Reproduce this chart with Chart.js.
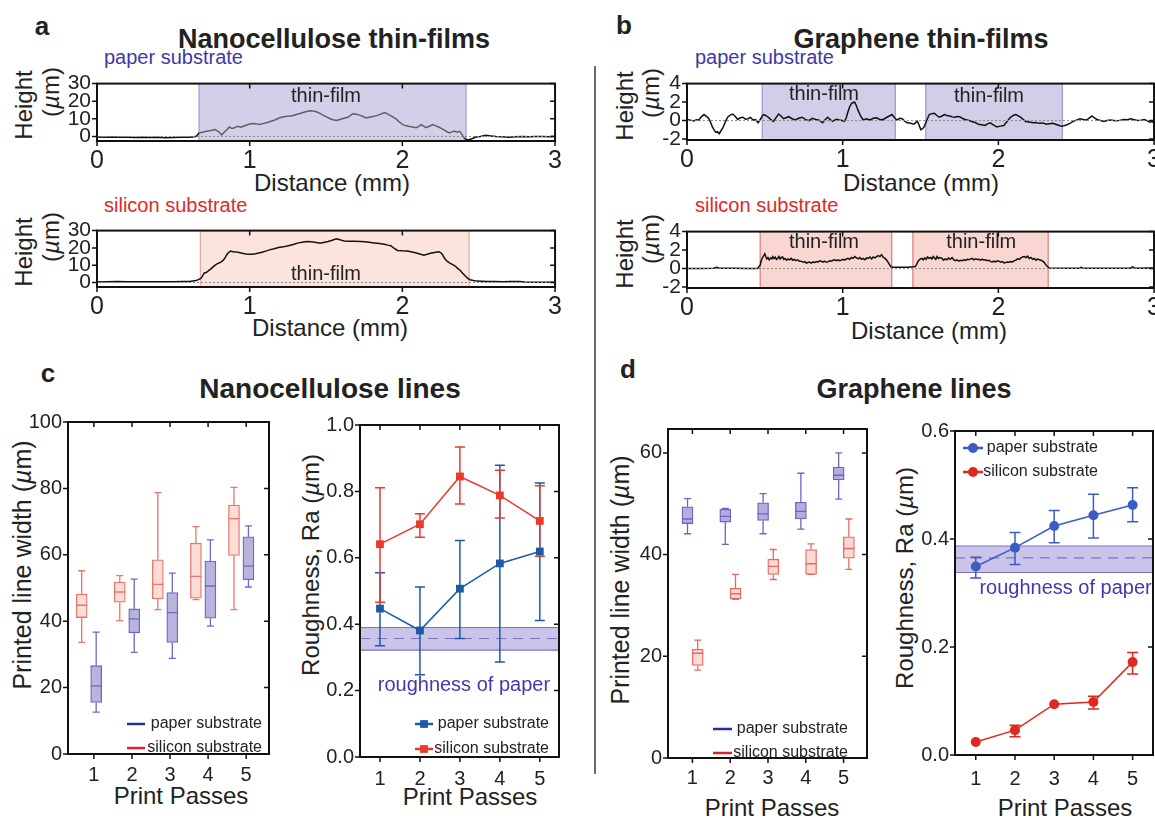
<!DOCTYPE html>
<html>
<head>
<meta charset="utf-8">
<script src="https://cdn.jsdelivr.net/npm/chart.js@4.4.1/dist/chart.umd.min.js"></script>
<style>
  html, body { margin:0; padding:0; background:#fff; width:1155px; height:818px; overflow:hidden; }
  body { position:relative; font-family:'Liberation Sans', Arial, Helvetica, sans-serif; color:#222; }
  canvas { position:absolute; }
  .t { position:absolute; white-space:nowrap; line-height:1; transform:translate(-50%,-50%); }
  .l { transform:translate(0,-50%); }
  .r { transform:translate(-50%,-50%) rotate(-90deg); }
  .b { font-weight:bold; }
  .paper { color:#3f37aa; }
  .silicon { color:#dd2a2a; }
  .sep { position:absolute; left:594px; top:66px; width:1.5px; height:708px; background:#6a6a6a; }
</style>
</head>
<body>
<!-- panel letters and headings -->
<div class="t b" style="left:42px;top:26px;font-size:26px">a</div>
<div class="t b" style="left:624px;top:25px;font-size:26px">b</div>
<div class="t b" style="left:48px;top:373px;font-size:26px">c</div>
<div class="t b" style="left:628px;top:369px;font-size:26px">d</div>
<div class="t b" style="left:334px;top:39px;font-size:27px">Nanocellulose thin-films</div>
<div class="t b" style="left:921px;top:39px;font-size:27px">Graphene thin-films</div>
<div class="t b" style="left:330px;top:389px;font-size:28px">Nanocellulose lines</div>
<div class="t b" style="left:914px;top:389px;font-size:27px">Graphene lines</div>

<!-- substrate captions -->
<div class="t l paper" style="left:104px;top:57px;font-size:20px">paper substrate</div>
<div class="t l silicon" style="left:104px;top:205px;font-size:20px">silicon substrate</div>
<div class="t l paper" style="left:695px;top:57px;font-size:20px">paper substrate</div>
<div class="t l silicon" style="left:695px;top:205px;font-size:20px">silicon substrate</div>

<!-- profile axis titles -->
<div class="t r" style="left:24px;top:105px;font-size:24px">Height</div>
<div class="t r" style="left:51px;top:92px;font-size:24px">(<i>µ</i>m)</div>
<div class="t r" style="left:24px;top:252px;font-size:24px">Height</div>
<div class="t r" style="left:51px;top:237px;font-size:24px">(<i>µ</i>m)</div>
<div class="t r" style="left:625px;top:106px;font-size:24px">Height</div>
<div class="t r" style="left:651px;top:93px;font-size:24px">(<i>µ</i>m)</div>
<div class="t r" style="left:625px;top:254px;font-size:24px">Height</div>
<div class="t r" style="left:651px;top:239px;font-size:24px">(<i>µ</i>m)</div>
<div class="t" style="left:332px;top:183px;font-size:24px">Distance (mm)</div>
<div class="t" style="left:330px;top:328px;font-size:24px">Distance (mm)</div>
<div class="t" style="left:921px;top:183px;font-size:24px">Distance (mm)</div>
<div class="t" style="left:929px;top:331px;font-size:24px">Distance (mm)</div>

<!-- line panels axis titles -->
<div class="t r" style="left:22px;top:565px;font-size:25px">Printed line width (<i>µ</i>m)</div>
<div class="t r" style="left:311px;top:565px;font-size:24px">Roughness, Ra (<i>µ</i>m)</div>
<div class="t r" style="left:620px;top:580px;font-size:25px">Printed line width (<i>µ</i>m)</div>
<div class="t r" style="left:905px;top:578px;font-size:24px">Roughness, Ra (<i>µ</i>m)</div>
<div class="t" style="left:181px;top:796px;font-size:24px">Print Passes</div>
<div class="t" style="left:470px;top:797px;font-size:24px">Print Passes</div>
<div class="t" style="left:772px;top:808px;font-size:24px">Print Passes</div>
<div class="t" style="left:1065px;top:808px;font-size:24px">Print Passes</div>

<div class="sep"></div>

<script>
// ---------------- height profiles: [distance (mm), height (µm)] ----------------
const distTicks = [0, 1, 2, 3];
const distLabels = ['0', '1', '2', '3'];
const ncHeightTicks = [0, 10, 20, 30];
const ncHeightLabels = ['0', '10', '20', '30'];
const grHeightTicks = [-2, 0, 2, 4];
const grHeightLabels = ['-2', '0', '2', '4'];

// printed film extents (mm)
const ncPaperFilm = [[0.668, 2.417]];
const ncSiliconFilm = [[0.677, 2.437]];
const grPaperFilms = [[0.483, 1.338], [1.534, 2.411]];
const grSiliconFilms = [[0.470, 1.315], [1.451, 2.320]];

const ncPaperProfile = [
  [0,-0.3],[0.05,-0.4],[0.1,-0.3],[0.15,-0.5],[0.2,-0.4],[0.25,-0.6],[0.3,-0.5],[0.35,-0.6],[0.4,-0.5],
  [0.45,-0.7],[0.5,-0.6],[0.55,-0.5],[0.6,-0.4],[0.64,-0.2],[0.653,0.3],[0.668,2.0],[0.69,2.4],[0.708,2.8],
  [0.74,3.2],[0.773,3.9],[0.795,2.8],[0.816,0.9],[0.838,2.8],[0.855,4.2],[0.867,5.4],[0.88,4.6],[0.893,4.6],
  [0.91,5.4],[0.925,5.7],[0.94,5.2],[0.958,5.8],[0.98,6.5],[1.0,7.0],[1.023,7.4],[1.045,7.0],[1.067,6.8],
  [1.09,7.4],[1.11,7.8],[1.14,8.6],[1.165,9.3],[1.19,10.3],[1.208,10.9],[1.235,11.3],[1.263,11.6],[1.285,11.9],
  [1.306,12.4],[1.33,13.0],[1.35,13.6],[1.372,14.2],[1.393,14.6],[1.415,14.4],[1.437,14.0],[1.46,13.1],
  [1.48,12.1],[1.5,11.2],[1.524,10.2],[1.545,9.5],[1.568,9.0],[1.59,9.6],[1.611,10.2],[1.63,10.6],[1.644,10.9],
  [1.66,12.0],[1.676,12.9],[1.7,12.6],[1.72,12.1],[1.742,11.3],[1.764,10.5],[1.785,10.9],[1.807,11.3],
  [1.83,11.8],[1.851,12.4],[1.868,13.0],[1.883,13.6],[1.9,12.9],[1.916,12.1],[1.94,11.0],[1.96,9.8],[1.98,8.2],
  [2.003,6.7],[2.025,6.0],[2.047,5.6],[2.07,5.3],[2.09,5.0],[2.105,5.6],[2.123,6.7],[2.14,5.8],[2.155,5.0],
  [2.18,5.9],[2.199,6.7],[2.22,6.0],[2.243,5.1],[2.26,4.3],[2.275,3.6],[2.29,2.8],[2.308,2.0],[2.325,2.6],
  [2.341,3.1],[2.35,2.6],[2.362,2.5],[2.375,2.9],[2.384,2.0],[2.395,0.5],[2.406,-1.1],[2.42,-1.7],[2.438,-1.9],
  [2.46,-1.2],[2.482,-0.3],[2.51,0.0],[2.547,0.6],[2.58,0.3],[2.613,0.0],[2.65,-0.2],[2.7,-0.5],[2.74,-0.2],
  [2.787,0.0],[2.83,-0.2],[2.874,-0.1],[2.92,0.0],[2.96,-0.2],[3.0,0.1]
];

const ncSiliconProfile = [
  [0,0.3],[0.07,0.5],[0.13,0.6],[0.2,0.4],[0.28,0.4],[0.36,0.5],[0.43,0.4],[0.5,0.5],[0.56,0.6],[0.605,0.6],
  [0.649,1.1],[0.681,2.4],[0.692,4.0],[0.703,5.5],[0.714,5.8],[0.724,6.3],[0.735,7.2],[0.746,7.9],[0.76,9.0],
  [0.778,10.3],[0.79,10.9],[0.811,11.8],[0.82,12.3],[0.832,13.4],[0.843,15.0],[0.854,16.6],[0.865,17.6],
  [0.876,18.2],[0.89,17.8],[0.908,17.7],[0.93,17.3],[0.951,16.9],[0.975,16.5],[0.995,16.3],[1.015,16.4],
  [1.038,16.6],[1.06,17.0],[1.081,17.5],[1.11,18.3],[1.135,19.0],[1.16,19.5],[1.189,20.2],[1.22,20.6],
  [1.254,21.3],[1.285,22.0],[1.319,22.9],[1.345,23.3],[1.373,23.7],[1.4,23.5],[1.427,23.2],[1.45,22.8],
  [1.47,22.9],[1.49,23.3],[1.514,23.7],[1.54,24.4],[1.568,25.3],[1.585,24.9],[1.6,24.5],[1.62,24.0],
  [1.643,23.9],[1.685,23.8],[1.73,23.7],[1.77,23.4],[1.816,22.9],[1.85,22.5],[1.881,22.1],[1.905,21.6],
  [1.924,21.3],[1.945,19.8],[1.968,18.5],[2.0,18.3],[2.032,18.2],[2.065,17.6],[2.097,16.9],[2.12,16.3],
  [2.141,15.8],[2.162,16.3],[2.184,16.9],[2.21,17.3],[2.238,17.7],[2.25,17.3],[2.259,16.6],[2.27,15.0],
  [2.281,13.4],[2.297,12.0],[2.314,11.1],[2.33,10.3],[2.346,9.5],[2.362,8.2],[2.378,7.1],[2.395,5.4],
  [2.411,3.9],[2.427,2.5],[2.443,1.6],[2.465,1.1],[2.486,0.8],[2.52,0.7],[2.551,0.6],[2.6,0.6],[2.659,0.5],
  [2.71,0.6],[2.768,0.6],[2.8,0.3],[2.832,0.1],[2.9,0.2],[2.95,0.2],[3.0,0.2]
];

const grPaperProfile = [
  [0,0.12],[0.022,0.05],[0.044,-0.03],[0.06,0.1],[0.076,0.06],[0.092,0.4],[0.109,0.65],[0.125,0.45],
  [0.141,0.2],[0.152,-0.2],[0.163,-0.68],[0.174,-1.0],[0.185,-1.28],[0.196,-1.2],[0.207,-1.42],[0.218,-1.1],
  [0.229,-0.83],[0.245,-0.2],[0.261,0.36],[0.278,0.6],[0.294,0.71],[0.31,0.45],[0.326,0.12],[0.342,0.3],
  [0.359,0.36],[0.375,0.15],[0.392,0.2],[0.408,0.35],[0.424,0.06],[0.44,0.1],[0.457,-0.24],[0.473,0.2],
  [0.49,0.65],[0.506,0.55],[0.522,0.36],[0.538,0.1],[0.555,-0.09],[0.571,0.3],[0.588,0.71],[0.604,0.5],
  [0.62,0.2],[0.636,0.3],[0.653,0.42],[0.675,0.2],[0.696,0.06],[0.718,0.25],[0.74,0.36],[0.762,0.1],
  [0.783,0.0],[0.805,0.25],[0.827,0.12],[0.849,0.05],[0.871,-0.24],[0.887,0.1],[0.903,0.36],[0.92,0.1],
  [0.936,-0.09],[0.958,0.15],[0.979,0.06],[0.995,0.0],[1.012,-0.09],[1.023,0.3],[1.034,0.95],[1.045,1.5],
  [1.056,1.84],[1.067,1.95],[1.077,1.99],[1.088,1.6],[1.099,1.1],[1.115,0.5],[1.132,0.06],[1.153,0.2],
  [1.175,0.06],[1.197,0.25],[1.219,0.3],[1.235,0.15],[1.251,0.06],[1.268,0.2],[1.284,0.36],[1.3,0.5],
  [1.317,0.65],[1.333,0.3],[1.349,0.06],[1.366,0.25],[1.382,0.2],[1.398,-0.05],[1.415,-0.24],[1.436,-0.3],
  [1.458,-0.39],[1.47,-0.2],[1.48,-0.09],[1.491,-0.5],[1.502,-0.98],[1.512,-0.9],[1.523,-0.68],[1.54,0.0],
  [1.556,0.65],[1.572,0.75],[1.589,0.8],[1.605,0.55],[1.621,0.36],[1.638,0.5],[1.654,0.65],[1.67,0.55],
  [1.687,0.5],[1.703,0.4],[1.719,0.36],[1.736,0.45],[1.752,0.42],[1.768,0.25],[1.785,0.12],[1.806,0.05],
  [1.828,-0.09],[1.85,-0.2],[1.872,-0.39],[1.893,-0.45],[1.915,-0.53],[1.93,-0.35],[1.948,-0.24],[1.97,-0.5],
  [1.991,-0.68],[2.013,-0.6],[2.035,-0.53],[2.056,-0.1],[2.078,0.36],[2.095,0.55],[2.111,0.65],[2.128,0.5],
  [2.144,0.36],[2.16,0.1],[2.176,-0.09],[2.198,-0.15],[2.22,-0.24],[2.241,-0.2],[2.263,-0.3],[2.285,-0.25],
  [2.307,-0.39],[2.328,-0.35],[2.35,-0.3],[2.377,-0.45],[2.405,-0.62],[2.421,-0.55],[2.437,-0.47],
  [2.459,-0.3],[2.481,-0.09],[2.502,0.05],[2.524,0.2],[2.546,0.12],[2.568,0.06],[2.585,0.3],[2.601,0.5],
  [2.617,0.3],[2.633,0.12],[2.655,0.0],[2.677,-0.09],[2.698,0.0],[2.72,0.06],[2.742,0.02],[2.764,-0.03],
  [2.785,0.05],[2.807,0.12],[2.829,0.1],[2.851,0.2],[2.872,0.1],[2.894,0.0],[2.916,0.05],[2.938,0.12],
  [2.955,0.0],[2.971,-0.18],[2.987,-0.1],[3.0,-0.24]
];

const grSiliconProfile = [
  [0,0.0],[0.08,0.02],[0.172,0.03],[0.19,0.15],[0.207,0.03],[0.3,0.03],[0.4,0.02],[0.453,0.0],[0.47,0.36],
  [0.478,0.9],[0.485,1.2],[0.493,1.4],[0.5,1.6],[0.507,1.25],[0.513,1.05],[0.52,1.2],[0.528,0.95],[0.537,1.15],
  [0.545,1.05],[0.55,1.3],[0.558,1.1],[0.566,1.25],[0.574,1.0],[0.582,1.1],[0.59,1.3],[0.598,1.05],[0.606,1.2],
  [0.614,1.25],[0.622,1.0],[0.63,1.1],[0.64,0.9],[0.65,1.05],[0.66,0.95],[0.67,1.1],[0.68,0.9],[0.69,1.0],
  [0.7,0.85],[0.712,0.95],[0.722,0.8],[0.733,0.8],[0.745,0.7],[0.757,0.75],[0.767,0.6],[0.776,0.65],
  [0.787,0.7],[0.798,0.6],[0.809,0.72],[0.819,0.65],[0.83,0.75],[0.841,0.7],[0.852,0.85],[0.862,0.8],
  [0.873,0.7],[0.884,0.8],[0.895,0.68],[0.905,0.72],[0.916,0.85],[0.927,0.8],[0.938,0.9],[0.948,0.95],
  [0.959,0.85],[0.97,0.95],[0.98,0.85],[0.991,0.9],[1.002,1.0],[1.013,0.92],[1.023,1.05],[1.034,1.1],
  [1.045,1.0],[1.056,1.2],[1.067,1.1],[1.078,1.3],[1.089,1.15],[1.1,1.05],[1.11,1.2],[1.121,1.0],[1.132,1.1],
  [1.143,0.95],[1.154,1.15],[1.164,1.1],[1.175,1.25],[1.186,1.05],[1.196,1.25],[1.207,1.15],[1.218,1.3],
  [1.228,1.4],[1.239,1.3],[1.25,1.5],[1.261,1.2],[1.272,1.1],[1.283,0.9],[1.293,0.65],[1.302,0.4],[1.31,0.2],
  [1.322,0.15],[1.336,0.15],[1.38,0.15],[1.422,0.15],[1.45,0.2],[1.466,0.22],[1.475,0.45],[1.483,0.75],
  [1.492,0.95],[1.5,1.05],[1.509,1.1],[1.518,0.95],[1.527,1.15],[1.536,1.0],[1.545,1.25],[1.555,1.1],
  [1.565,1.2],[1.573,1.05],[1.582,1.3],[1.59,1.15],[1.598,1.0],[1.606,1.3],[1.615,1.1],[1.625,1.2],[1.638,1.1],
  [1.648,0.9],[1.658,1.05],[1.67,0.95],[1.68,1.15],[1.692,1.0],[1.703,1.19],[1.714,0.95],[1.725,0.85],
  [1.736,0.95],[1.746,0.8],[1.757,0.9],[1.768,0.85],[1.779,0.95],[1.789,0.89],[1.8,1.0],[1.81,0.95],
  [1.821,1.05],[1.832,1.1],[1.843,0.95],[1.854,1.05],[1.865,0.98],[1.875,1.0],[1.886,0.92],[1.897,1.02],
  [1.908,0.9],[1.918,0.95],[1.929,0.85],[1.94,0.9],[1.951,0.75],[1.961,0.71],[1.972,0.8],[1.983,0.72],
  [1.994,0.85],[2.004,0.8],[2.015,0.7],[2.026,0.75],[2.037,0.62],[2.047,0.65],[2.058,0.72],[2.069,0.68],
  [2.08,0.75],[2.091,0.71],[2.102,0.85],[2.113,0.92],[2.123,1.05],[2.134,1.0],[2.145,1.15],[2.156,1.25],
  [2.166,1.3],[2.177,1.2],[2.188,1.35],[2.198,1.1],[2.209,1.2],[2.22,1.0],[2.231,1.1],[2.242,0.9],[2.252,1.05],
  [2.263,0.95],[2.274,0.9],[2.285,0.8],[2.295,0.65],[2.305,0.4],[2.317,0.2],[2.328,0.05],[2.435,0.03],
  [2.525,0.03],[2.532,0.15],[2.543,0.03],[2.7,0.03],[2.845,0.03],[2.862,0.18],[2.879,0.03],[2.974,0.06],[3.0,0.03]
];

// ---------------- printed lines ----------------
const passes = [1, 2, 3, 4, 5];
const passTicks = [1, 2, 3, 4, 5];
const passLabels = ['1', '2', '3', '4', '5'];

// nanocellulose line width (µm): min, Q1, median, Q3, max
const ncSiMin = [33.6, 40.2, 43.5, 46.5, 43.5];
const ncSiQ1  = [41.1, 45.7, 46.7, 46.9, 59.8];
const ncSiMed = [44.8, 48.8, 51.1, 53.5, 70.9];
const ncSiQ3  = [48.2, 51.8, 58.5, 63.5, 75.0];
const ncSiMax = [55.2, 53.7, 78.7, 68.5, 80.3];
const ncPaMin = [12.6, 30.6, 28.8, 38.5, 50.3];
const ncPaQ1  = [15.5, 36.5, 33.6, 40.9, 52.5];
const ncPaMed = [20.5, 40.7, 42.6, 50.6, 56.6];
const ncPaQ3  = [26.6, 43.7, 48.6, 58.1, 65.4];
const ncPaMax = [36.7, 52.7, 54.5, 64.5, 68.7];
const ncWidthTicks = [0, 20, 40, 60, 80, 100];
const ncWidthLabels = ['0', '20', '40', '60', '80', '100'];

// graphene line width (µm)
const grPaMin = [44.1, 42.0, 44.1, 45.0, 50.9];
const grPaQ1  = [46.1, 46.4, 46.7, 47.0, 54.7];
const grPaMed = [47.0, 47.5, 48.0, 48.5, 55.6];
const grPaQ3  = [49.4, 48.9, 50.2, 50.3, 57.2];
const grPaMax = [51.0, 49.1, 52.0, 56.0, 60.0];
const grSiMin = [17.3, 31.2, 35.1, 36.1, 37.1];
const grSiQ1  = [18.2, 31.3, 36.1, 36.1, 39.3];
const grSiMed = [20.6, 32.3, 37.7, 38.2, 41.2];
const grSiQ3  = [21.4, 33.4, 39.1, 41.0, 43.5];
const grSiMax = [23.2, 36.1, 41.0, 42.1, 47.0];
const grWidthTicks = [0, 20, 40, 60];
const grWidthLabels = ['0', '20', '40', '60'];

// roughness Ra (µm) with error bar ends
const ncRaSi   = [0.641, 0.701, 0.845, 0.788, 0.711];
const ncRaSiHi = [0.811, 0.733, 0.934, 0.864, 0.817];
const ncRaSiLo = [0.466, 0.662, 0.762, 0.720, 0.605];
const ncRaPa   = [0.447, 0.381, 0.507, 0.583, 0.619];
const ncRaPaHi = [0.555, 0.512, 0.652, 0.879, 0.825];
const ncRaPaLo = [0.335, 0.248, 0.357, 0.286, 0.411];
const ncPaperRa = [0.322, 0.357, 0.390];   // low, mean, high
const ncRaTicks = [0, 0.2, 0.4, 0.6, 0.8, 1.0];
const ncRaLabels = ['0.0', '0.2', '0.4', '0.6', '0.8', '1.0'];

const grRaPa   = [0.349, 0.384, 0.424, 0.444, 0.463];
const grRaPaHi = [0.366, 0.412, 0.453, 0.483, 0.495];
const grRaPaLo = [0.328, 0.353, 0.393, 0.402, 0.432];
const grRaSi   = [0.024, 0.046, 0.094, 0.098, 0.172];
const grRaSiHi = [0.024, 0.055, 0.094, 0.109, 0.190];
const grRaSiLo = [0.024, 0.034, 0.094, 0.085, 0.150];
const grPaperRa = [0.338, 0.365, 0.387];
const grRaTicks = [0, 0.2, 0.4, 0.6];
const grRaLabels = ['0.0', '0.2', '0.4', '0.6'];

// ---------------- drawing helpers ----------------
const FONT = "'Liberation Sans', Arial, Helvetica, sans-serif";
Chart.defaults.font.family = FONT;

const pts = arr => arr.map(p => ({ x: p[0], y: p[1] }));
const inside = (v, ranges) => ranges.some(r => v >= r[0] && v <= r[1]);

// box frame with outward ticks left/bottom and inward ticks top/right
const framePlugin = {
  id: 'frame',
  afterDraw(chart) {
    const { ctx, chartArea: { left, top, right, bottom }, scales: { x, y } } = chart;
    ctx.save();
    ctx.strokeStyle = '#111';
    ctx.lineWidth = 1.5;
    ctx.beginPath();
    x.ticks.forEach(t => {
      const px = x.getPixelForValue(t.value);
      ctx.moveTo(px, bottom); ctx.lineTo(px, bottom + 5);
      ctx.moveTo(px, top); ctx.lineTo(px, top + 5);
    });
    y.ticks.forEach(t => {
      const py = y.getPixelForValue(t.value);
      ctx.moveTo(left - 5, py); ctx.lineTo(left, py);
      ctx.moveTo(right - 5, py); ctx.lineTo(right, py);
    });
    ctx.stroke();
    ctx.lineWidth = 2;
    ctx.strokeRect(left, top, right - left, bottom - top);
    ctx.restore();
  }
};

// shaded film regions spanning the plot height
const filmPlugin = {
  id: 'film',
  beforeDatasetsDraw(chart, args, o) {
    const { ctx, chartArea: { top, bottom }, scales: { x } } = chart;
    ctx.save();
    o.ranges.forEach(r => {
      const x0 = x.getPixelForValue(r[0]), x1 = x.getPixelForValue(r[1]);
      ctx.fillStyle = o.fill;
      ctx.fillRect(x0, top, x1 - x0, bottom - top);
      ctx.strokeStyle = o.edge;
      ctx.lineWidth = 1.2;
      ctx.beginPath();
      ctx.moveTo(x0, top); ctx.lineTo(x0, bottom);
      ctx.moveTo(x1, top); ctx.lineTo(x1, bottom);
      ctx.stroke();
    });
    ctx.restore();
  }
};

// paper reference roughness band (low / mean / high)
const bandPlugin = {
  id: 'band',
  beforeDatasetsDraw(chart, args, o) {
    const { ctx, chartArea: { left, right }, scales: { y } } = chart;
    const yLo = y.getPixelForValue(o.values[0]);
    const yMid = y.getPixelForValue(o.values[1]);
    const yHi = y.getPixelForValue(o.values[2]);
    ctx.save();
    ctx.fillStyle = o.fill;
    ctx.fillRect(left, yHi, right - left, yLo - yHi);
    ctx.strokeStyle = o.edge;
    ctx.lineWidth = 1.2;
    ctx.beginPath();
    ctx.moveTo(left, yHi); ctx.lineTo(right, yHi);
    ctx.moveTo(left, yLo); ctx.lineTo(right, yLo);
    ctx.stroke();
    ctx.setLineDash([10, 7]);
    ctx.beginPath();
    ctx.moveTo(left, yMid); ctx.lineTo(right, yMid);
    ctx.stroke();
    ctx.restore();
  }
};

// text annotations placed in data coordinates
const notesPlugin = {
  id: 'notes',
  afterDatasetsDraw(chart, args, o) {
    const { ctx, scales: { x, y } } = chart;
    o.items.forEach(it => {
      ctx.save();
      ctx.font = `${it.size}px ${FONT}`;
      ctx.fillStyle = it.color;
      ctx.textAlign = 'center';
      ctx.textBaseline = 'middle';
      ctx.fillText(it.text, x.getPixelForValue(it.x), y.getPixelForValue(it.y));
      ctx.restore();
    });
  }
};

// whiskers and medians on top of the floating-bar boxes
const whiskerPlugin = {
  id: 'whiskers',
  afterDatasetsDraw(chart) {
    const { ctx, scales: { y } } = chart;
    chart.data.datasets.forEach((ds, di) => {
      if (!ds.whisker) return;
      chart.getDatasetMeta(di).data.forEach((bar, i) => {
        const cx = bar.x, hw = bar.width / 2;
        const q1 = y.getPixelForValue(ds.data[i].y[0]);
        const q3 = y.getPixelForValue(ds.data[i].y[1]);
        const lo = y.getPixelForValue(ds.whisker.min[i]);
        const hi = y.getPixelForValue(ds.whisker.max[i]);
        const md = y.getPixelForValue(ds.whisker.med[i]);
        ctx.save();
        ctx.strokeStyle = ds.borderColor;
        ctx.lineWidth = 1.3;
        ctx.beginPath();
        ctx.moveTo(cx, Math.min(q1, q3)); ctx.lineTo(cx, hi);
        ctx.moveTo(cx - 3.5, hi); ctx.lineTo(cx + 3.5, hi);
        ctx.moveTo(cx, Math.max(q1, q3)); ctx.lineTo(cx, lo);
        ctx.moveTo(cx - 3.5, lo); ctx.lineTo(cx + 3.5, lo);
        ctx.moveTo(cx - hw, md); ctx.lineTo(cx + hw, md);
        ctx.stroke();
        ctx.restore();
      });
    });
  }
};

// vertical error bars with caps, drawn beneath the markers
const errorPlugin = {
  id: 'errors',
  beforeDatasetsDraw(chart) {
    const { ctx, scales: { y } } = chart;
    chart.data.datasets.forEach((ds, di) => {
      if (!ds.errHi) return;
      chart.getDatasetMeta(di).data.forEach((pt, i) => {
        const hi = y.getPixelForValue(ds.errHi[i]);
        const lo = y.getPixelForValue(ds.errLo[i]);
        if (Math.abs(lo - hi) < 1) return;
        const c = ds.capHalf;
        ctx.save();
        ctx.strokeStyle = ds.borderColor;
        ctx.lineWidth = 1.5;
        ctx.beginPath();
        ctx.moveTo(pt.x, hi); ctx.lineTo(pt.x, lo);
        ctx.moveTo(pt.x - c, hi); ctx.lineTo(pt.x + c, hi);
        ctx.moveTo(pt.x - c, lo); ctx.lineTo(pt.x + c, lo);
        ctx.stroke();
        ctx.restore();
      });
    });
  }
};

// in-plot keys: a short line (optionally with a marker) and a right-aligned label
const keysPlugin = {
  id: 'keys',
  afterDraw(chart, args, o) {
    const { ctx, chartArea: { left, top } } = chart;
    o.items.forEach(it => {
      const yy = top + it.dy;
      ctx.save();
      ctx.strokeStyle = it.color;
      ctx.lineWidth = it.lw;
      ctx.beginPath();
      ctx.moveTo(left + it.x0, yy); ctx.lineTo(left + it.x1, yy);
      ctx.stroke();
      if (it.marker) {
        ctx.fillStyle = it.color;
        Chart.helpers.drawPoint(ctx, { pointStyle: it.marker, radius: it.r, borderWidth: 0, rotation: 0 },
          left + (it.x0 + it.x1) / 2, yy);
      }
      ctx.font = `16px ${FONT}`;
      ctx.fillStyle = '#222';
      ctx.textAlign = 'right';
      ctx.textBaseline = 'middle';
      ctx.fillText(it.text, left + it.tx, yy);
      ctx.restore();
    });
  }
};

function axis(a, horizontal, size) {
  return {
    type: 'linear', min: a.min, max: a.max, offset: false, bounds: 'data',
    grid: { display: false, drawTicks: false },
    border: { display: false },
    afterBuildTicks: s => { s.ticks = a.ticks.map(v => ({ value: v })); },
    afterFit: s => { if (horizontal) s.height = size; else s.width = size; },
    ticks: {
      autoSkip: false, maxRotation: 0, minRotation: 0, padding: a.pad,
      color: '#222', font: { family: FONT, size: a.size },
      callback: (v, i) => a.labels[i]
    }
  };
}

// area = exact plot rectangle in page pixels
function makeChart(spec) {
  const padTop = 6, padRight = 8;
  const A = spec.area;
  const W = Math.round(spec.yw + (A.r - A.l) + padRight);
  const H = Math.round(padTop + (A.b - A.t) + spec.xh);
  const cv = document.createElement('canvas');
  cv.width = W; cv.height = H;
  cv.style.width = W + 'px'; cv.style.height = H + 'px';
  cv.style.left = (A.l - spec.yw) + 'px';
  cv.style.top = (A.t - padTop) + 'px';
  document.body.appendChild(cv);
  return new Chart(cv, {
    type: spec.type,
    data: { datasets: spec.datasets },
    options: {
      responsive: false, animation: false, events: [],
      layout: { padding: { top: padTop, right: padRight, left: 0, bottom: 0 }, autoPadding: false },
      plugins: Object.assign({ legend: { display: false }, tooltip: { enabled: false } }, spec.opts || {}),
      scales: { x: axis(spec.x, true, spec.xh), y: axis(spec.y, false, spec.yw) }
    },
    plugins: [framePlugin].concat(spec.plugins || [])
  });
}

function profileChart(area, profile, films, yMin, yMax, yTicks, yLabels, shade, notes, traceIn) {
  return makeChart({
    type: 'line', area, yw: 60, xh: 44,
    x: { min: 0, max: 3, ticks: distTicks, labels: distLabels, size: 25, pad: 5 },
    y: { min: yMin, max: yMax, ticks: yTicks, labels: yLabels, size: 21, pad: 6 },
    datasets: [
      { data: pts([[0, 0], [3, 0]]), borderColor: '#8a8a8a', borderWidth: 1, borderDash: [2, 2], pointRadius: 0 },
      { data: pts(profile), borderColor: '#111', borderWidth: 1.5, pointRadius: 0, tension: 0,
        segment: { borderColor: c => (inside(c.p0.parsed.x, films) && inside(c.p1.parsed.x, films)) ? traceIn : '#111' } }
    ],
    plugins: [filmPlugin, notesPlugin],
    opts: { film: { ranges: films, fill: shade.fill, edge: shade.edge }, notes: { items: notes } }
  });
}

const lavender = { fill: '#d3cfe8', edge: '#a29dd6' };
const blush = { fill: '#fbe3de', edge: '#eba99f' };
const lavenderB = { fill: '#d2cee8', edge: '#9c96d2' };
const blushB = { fill: '#f9d6d2', edge: '#e27a74' };

// a: nanocellulose thin-films
profileChart({ l: 97, t: 70.5, r: 559, b: 140 }, ncPaperProfile, ncPaperFilm, -2.6, 30,
  ncHeightTicks, ncHeightLabels, lavender,
  [{ text: 'thin-film', x: 1.5, y: 22.7, size: 20, color: '#222' }], '#606060');
profileChart({ l: 97, t: 218, r: 559, b: 287 }, ncSiliconProfile, ncSiliconFilm, -2.6, 30,
  ncHeightTicks, ncHeightLabels, blush,
  [{ text: 'thin-film', x: 1.5, y: 4.8, size: 20, color: '#222' }], '#111');

// b: graphene thin-films
profileChart({ l: 687, t: 71, r: 1158, b: 139.5 }, grPaperProfile, grPaperFilms, -2.1, 4,
  grHeightTicks, grHeightLabels, lavenderB,
  [{ text: 'thin-film', x: 0.88, y: 2.86, size: 20, color: '#222' },
   { text: 'thin-film', x: 1.94, y: 2.65, size: 20, color: '#222' }], '#111');
profileChart({ l: 687, t: 219, r: 1158, b: 287.5 }, grSiliconProfile, grSiliconFilms, -2.1, 4,
  grHeightTicks, grHeightLabels, blushB,
  [{ text: 'thin-film', x: 0.88, y: 2.86, size: 20, color: '#222' },
   { text: 'thin-film', x: 1.89, y: 2.86, size: 20, color: '#222' }], '#111');

function boxes(shift, q1, q3, min, med, max, fill, stroke) {
  return {
    type: 'bar',
    data: passes.map((p, i) => ({ x: p + shift, y: [q1[i], q3[i]] })),
    backgroundColor: fill, borderColor: stroke, borderWidth: 1.3, borderSkipped: false,
    barThickness: 11, grouped: false,
    whisker: { min, med, max }
  };
}

const PAPER_KEY = '#2b2d9e', SILICON_KEY = '#d8252b';

// c: nanocellulose line widths
makeChart({
  type: 'bar', area: { l: 68, t: 410, r: 269, b: 754 }, yw: 60, xh: 40,
  x: { min: 0.32, max: 5.6, ticks: passTicks, labels: passLabels, size: 20, pad: 9 },
  y: { min: 0, max: 100, ticks: ncWidthTicks, labels: ncWidthLabels, size: 20, pad: 6 },
  datasets: [
    boxes(-0.32, ncSiQ1, ncSiQ3, ncSiMin, ncSiMed, ncSiMax, '#fcdcd6', '#e8766c'),
    boxes(0.06, ncPaQ1, ncPaQ3, ncPaMin, ncPaMed, ncPaMax, '#b9b4de', '#7068c4')
  ],
  plugins: [whiskerPlugin, keysPlugin],
  opts: { keys: { items: [
    { text: 'paper substrate', color: PAPER_KEY, lw: 2.5, x0: 59, x1: 77, tx: 194, dy: 302 },
    { text: 'silicon substrate', color: SILICON_KEY, lw: 2.5, x0: 59, x1: 77, tx: 194, dy: 326 }
  ] } }
});

// c: nanocellulose roughness
makeChart({
  type: 'line', area: { l: 360, t: 413, r: 559, b: 757 }, yw: 60, xh: 40,
  x: { min: 0.5, max: 5.48, ticks: passTicks, labels: passLabels, size: 20, pad: 10 },
  y: { min: 0, max: 1, ticks: ncRaTicks, labels: ncRaLabels, size: 20, pad: 6 },
  datasets: [
    { data: passes.map((p, i) => ({ x: p, y: ncRaPa[i] })), borderColor: '#1c5aa6', backgroundColor: '#1c5aa6',
      borderWidth: 1.5, pointStyle: 'rect', pointRadius: 5.5, pointBorderWidth: 0, errHi: ncRaPaHi, errLo: ncRaPaLo, capHalf: 5 },
    { data: passes.map((p, i) => ({ x: p, y: ncRaSi[i] })), borderColor: '#ea3a2c', backgroundColor: '#ea3a2c',
      borderWidth: 1.5, pointStyle: 'rect', pointRadius: 5.5, pointBorderWidth: 0, errHi: ncRaSiHi, errLo: ncRaSiLo, capHalf: 5 }
  ],
  plugins: [bandPlugin, errorPlugin, notesPlugin, keysPlugin],
  opts: {
    band: { values: ncPaperRa, fill: '#c9c4e8', edge: '#7a72c9' },
    notes: { items: [{ text: 'roughness of paper', x: 3.1, y: 0.215, size: 20, color: '#4338b0' }] },
    keys: { items: [
      { text: 'paper substrate', color: '#1c5aa6', lw: 2.5, x0: 55, x1: 73, tx: 189, dy: 299, marker: 'rect', r: 5.5 },
      { text: 'silicon substrate', color: '#ea3a2c', lw: 2.5, x0: 55, x1: 73, tx: 189, dy: 324, marker: 'rect', r: 5.5 }
    ] }
  }
});

// d: graphene line widths
makeChart({
  type: 'bar', area: { l: 668, t: 417, r: 867, b: 758 }, yw: 60, xh: 40,
  x: { min: 0.354, max: 5.62, ticks: passTicks, labels: passLabels, size: 20, pad: 8 },
  y: { min: 0, max: 64.7, ticks: grWidthTicks, labels: grWidthLabels, size: 20, pad: 6 },
  datasets: [
    boxes(-0.13, grPaQ1, grPaQ3, grPaMin, grPaMed, grPaMax, '#b3aede', '#6c64c6'),
    boxes(0.14, grSiQ1, grSiQ3, grSiMin, grSiMed, grSiMax, '#fcd9d5', '#e46a62')
  ],
  plugins: [whiskerPlugin, keysPlugin],
  opts: { keys: { items: [
    { text: 'paper substrate', color: PAPER_KEY, lw: 2.5, x0: 45, x1: 64, tx: 180, dy: 300 },
    { text: 'silicon substrate', color: SILICON_KEY, lw: 2.5, x0: 45, x1: 64, tx: 180, dy: 324 }
  ] } }
});

// d: graphene roughness
makeChart({
  type: 'line', area: { l: 955, t: 419, r: 1153, b: 755 }, yw: 60, xh: 40,
  x: { min: 0.47, max: 5.52, ticks: passTicks, labels: passLabels, size: 20, pad: 12 },
  y: { min: 0, max: 0.6, ticks: grRaTicks, labels: grRaLabels, size: 20, pad: 6 },
  datasets: [
    { data: passes.map((p, i) => ({ x: p, y: grRaPa[i] })), borderColor: '#3d5cc2', backgroundColor: '#3d5cc2',
      borderWidth: 1.5, pointStyle: 'circle', pointRadius: 5, pointBorderWidth: 0, errHi: grRaPaHi, errLo: grRaPaLo, capHalf: 5.5 },
    { data: passes.map((p, i) => ({ x: p, y: grRaSi[i] })), borderColor: '#e0281e', backgroundColor: '#e0281e',
      borderWidth: 1.5, pointStyle: 'circle', pointRadius: 5, pointBorderWidth: 0, errHi: grRaSiHi, errLo: grRaSiLo, capHalf: 5.5 }
  ],
  plugins: [bandPlugin, errorPlugin, notesPlugin, keysPlugin],
  opts: {
    band: { values: grPaperRa, fill: '#c9c4e8', edge: '#7a72c9' },
    notes: { items: [{ text: 'roughness of paper', x: 3.29, y: 0.308, size: 20, color: '#4338b0' }] },
    keys: { items: [
      { text: 'paper substrate', color: '#3d5cc2', lw: 2.5, x0: 8, x1: 28, tx: 143, dy: 17, marker: 'circle', r: 5 },
      { text: 'silicon substrate', color: '#e0281e', lw: 2.5, x0: 8, x1: 28, tx: 143, dy: 41, marker: 'circle', r: 5 }
    ] }
  }
});
</script>
</body>
</html>
